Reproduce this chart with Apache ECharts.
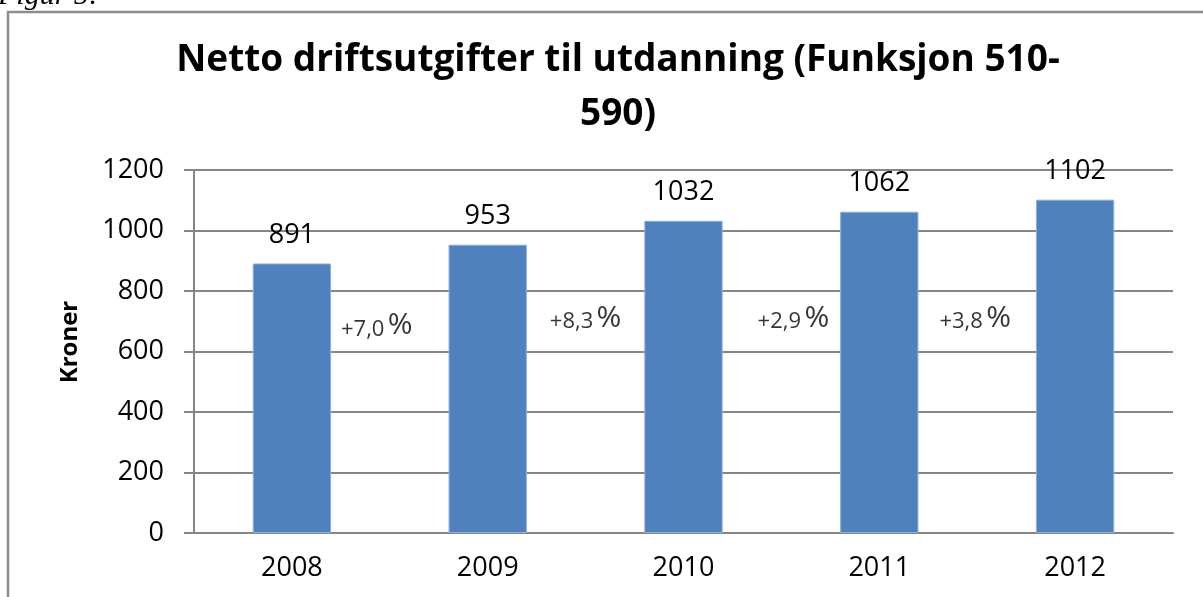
<!DOCTYPE html>
<html>
<head>
<meta charset="utf-8">
<script src="https://cdn.jsdelivr.net/npm/echarts@6/dist/echarts.min.js"></script>
<style>
  html, body { margin: 0; padding: 0; background: #fff; }
  #main { width: 1203px; height: 597px; }
</style>
</head>
<body>
<div id="main"></div>
<script>
// data
var years = ['2008', '2009', '2010', '2011', '2012'];
var values = [891, 953, 1032, 1062, 1102];
var growth = ['+7,0', '+8,3', '+2,9', '+3,8'];
var growthLevel = [690, 715, 715, 715];   // height (in kroner) of each growth note
var yTicks = [0, 200, 400, 600, 800, 1000, 1200];

var grey = '#868686';
var font = '"Open Sans", sans-serif';

var myChart = echarts.init(document.getElementById('main'));

// growth notes sit on the border between two years
var nudge = [-13, 0, 12, -2];
var notes = growth.map(function (g, i) {
  return {
    value: [i + 1, growthLevel[i]],
    label: { offset: [nudge[i], 0] }
  };
});

var option = {
  animation: false,
  backgroundColor: '#fff',
  title: {
    text: 'Netto driftsutgifter til utdanning (Funksjon 510-\n590)',
    left: 613,
    top: 28,
    textAlign: 'center',
    textStyle: {
      fontFamily: font,
      fontWeight: 'bold',
      fontSize: 37,
      lineHeight: 54,
      color: '#000'
    }
  },
  graphic: [
    {
      type: 'rect',
      shape: { x: 8, y: 12, width: 1210, height: 610 },
      style: { fill: null, stroke: '#8c8c8c', lineWidth: 2.5 },
      silent: true
    },
    {
      type: 'text',
      left: -2,
      top: -19,
      style: {
        text: 'Figur 5:',
        fontFamily: '"Liberation Serif", serif',
        fontStyle: 'italic',
        fontSize: 30,
        fill: '#000'
      },
      silent: true
    },
    {
      type: 'text',
      x: 70,
      y: 342,
      rotation: Math.PI / 2,
      style: {
        text: 'Kroner',
        fontFamily: font,
        fontWeight: 'bold',
        fontSize: 24,
        fill: '#000',
        align: 'center',
        verticalAlign: 'middle'
      },
      silent: true
    }
  ],
  grid: { left: 194, right: 30, top: 170, bottom: 64 },
  xAxis: [
    {
      type: 'category',
      data: years,
      axisLine: { lineStyle: { color: grey, width: 2 } },
      axisTick: { length: 9, lineStyle: { color: grey, width: 2 } },
      axisLabel: { color: '#000', fontFamily: font, fontSize: 27, margin: 22 }
    },
    {
      type: 'value',
      min: 0,
      max: years.length,
      show: false
    }
  ],
  yAxis: {
    type: 'value',
    min: yTicks[0],
    max: yTicks[yTicks.length - 1],
    interval: 200,
    axisLine: { show: true, lineStyle: { color: grey, width: 2 } },
    axisTick: { show: true, length: 10, lineStyle: { color: grey, width: 2 } },
    axisLabel: {
      color: '#000', fontFamily: font, fontSize: 27, margin: 30,
      formatter: function (v) { return String(v); }
    },
    splitLine: { lineStyle: { color: grey, width: 2 } }
  },
  series: [
    {
      type: 'bar',
      data: values,
      barWidth: '40%',
      itemStyle: { color: '#4f81bd', borderColor: '#8eaedb', borderWidth: 1 },
      label: {
        show: true,
        position: 'top',
        distance: 15,
        color: '#000',
        fontFamily: font,
        fontSize: 27
      }
    },
    {
      type: 'scatter',
      xAxisIndex: 1,
      symbolSize: 0,
      data: notes,
      label: {
        show: true,
        position: 'inside',
        formatter: function (p) {
          return '{a|' + growth[p.dataIndex] + '} {b|%}';
        },
        rich: {
          a: { fontFamily: font, fontSize: 22, color: '#000', verticalAlign: 'bottom', lineHeight: 28 },
          b: { fontFamily: font, fontSize: 30, color: '#000', verticalAlign: 'bottom', lineHeight: 33 }
        }
      }
    }
  ]
};

myChart.setOption(option);
</script>
</body>
</html>
